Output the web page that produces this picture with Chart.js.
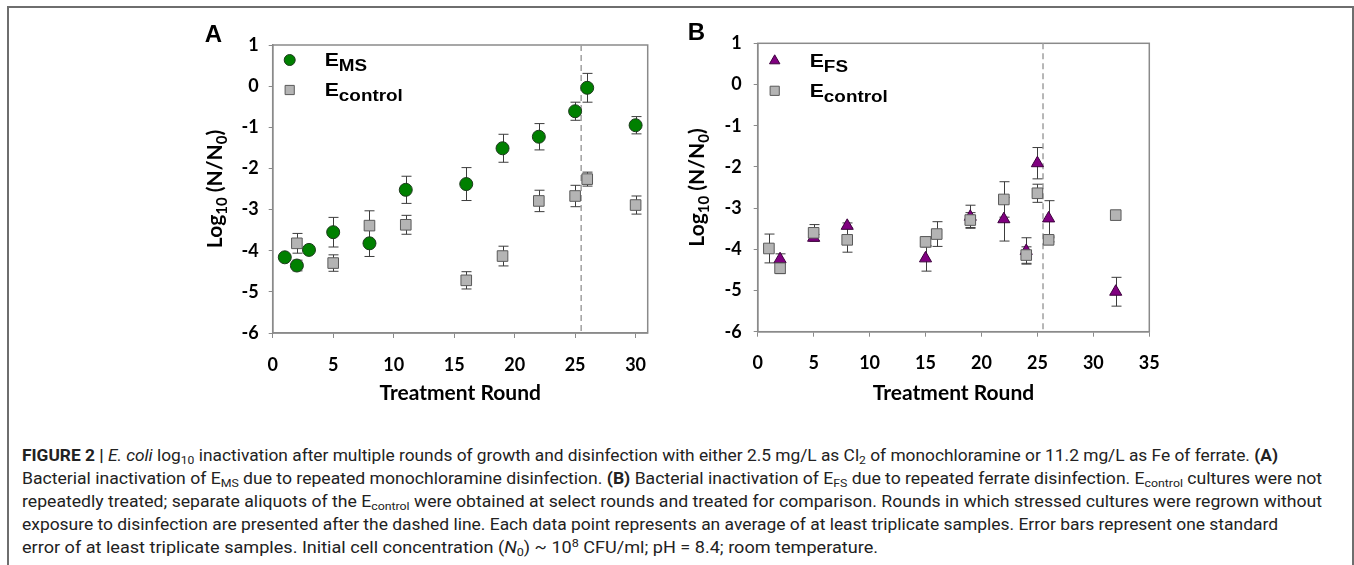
<!DOCTYPE html>
<html lang="en">
<head>
<meta charset="UTF-8">
<title>E. coli log10 inactivation after repeated disinfection</title>
<script src="https://cdn.jsdelivr.net/npm/chart.js"></script>
<style>
  body { margin: 0; background: #fff; width: 1354px; height: 565px; overflow: hidden; position: relative; }
  .frame { position: absolute; left: 7px; top: 6px; width: 1343px; height: 620px; border: 2px solid #6e6e6e; border-bottom: none; }
  .panel { position: absolute; top: 10px; height: 405px; }
  #panelA { left: 195px; width: 490px; }
  #panelB { left: 680px; width: 510px; }
  .caption { position: absolute; left: 22px; top: 444px; font-family: Roboto, "Liberation Sans", sans-serif; font-size: 16px; line-height: 23px; color: #222; }
  .caption div { white-space: nowrap; transform-origin: left center; width: max-content; }
  .caption sub, .caption sup { font-size: 0.7em; line-height: 0; }
  .caption sub { vertical-align: -0.3em; }
  .caption sup { vertical-align: 0.55em; }
</style>
</head>
<body>
<div class="frame"></div>
<div class="panel" id="panelA"><canvas id="chartA"></canvas></div>
<div class="panel" id="panelB"><canvas id="chartB"></canvas></div>
<div class="caption" id="caption">
  <div><b>FIGURE 2 | </b><i>E. coli</i> log<sub>10</sub> inactivation after multiple rounds of growth and disinfection with either 2.5 mg/L as Cl<sub>2</sub> of monochloramine or 11.2 mg/L as Fe of ferrate. <b>(A)</b></div>
  <div>Bacterial inactivation of E<sub>MS</sub> due to repeated monochloramine disinfection. <b>(B)</b> Bacterial inactivation of E<sub>FS</sub> due to repeated ferrate disinfection. E<sub>control</sub> cultures were not</div>
  <div>repeatedly treated; separate aliquots of the E<sub>control</sub> were obtained at select rounds and treated for comparison. Rounds in which stressed cultures were regrown without</div>
  <div>exposure to disinfection are presented after the dashed line. Each data point represents an average of at least triplicate samples. Error bars represent one standard</div>
  <div>error of at least triplicate samples. Initial cell concentration (<i>N</i><sub>0</sub>) ~ 10<sup>8</sup> CFU/ml; pH = 8.4; room temperature.</div>
</div>

<script>
// Panel A: monochloramine-stressed E. coli (E_MS) vs control
const roundsMS = [1, 2, 3, 5, 8, 11, 16, 19, 22, 25, 26, 30];
const logMS = [-4.16, -4.36, -3.98, -3.55, -3.82, -2.52, -2.38, -1.51, -1.23, -0.61, -0.04, -0.95];
const errMS = [0.05, 0.13, 0.05, 0.36, 0.32, 0.33, 0.40, 0.34, 0.32, 0.22, 0.35, 0.21];
const roundsCtrlA = [2, 5, 8, 11, 16, 19, 22, 25, 26, 30];
const logCtrlA = [-3.82, -4.30, -3.39, -3.37, -4.72, -4.13, -2.79, -2.67, -2.26, -2.89];
const errCtrlA = [0.24, 0.20, 0.36, 0.23, 0.21, 0.24, 0.26, 0.26, 0.17, 0.22];

// Panel B: ferrate-stressed E. coli (E_FS) vs control
const roundsFS = [2, 5, 8, 15, 19, 22, 24, 25, 26, 32];
const logFS = [-4.24, -3.72, -3.43, -4.22, -3.21, -3.27, -4.04, -1.91, -3.25, -5.03];
const errFS = [0.13, 0.08, 0.07, 0.31, 0.28, 0.53, 0.32, 0.38, 0.43, 0.35];
const roundsCtrlB = [1, 2, 5, 8, 15, 16, 19, 22, 24, 25, 26, 32];
const logCtrlB = [-3.98, -4.46, -3.60, -3.77, -3.82, -3.63, -3.29, -2.79, -4.14, -2.64, -3.77, -3.17];
const errCtrlB = [0.35, 0.13, 0.20, 0.30, 0.12, 0.30, 0.18, 0.43, 0.20, 0.22, 0.05, 0];

const xTicks = [0, 5, 10, 15, 20, 25, 30, 35];
const yTicks = [-6, -5, -4, -3, -2, -1, 0, 1];
const regrowthStart = 25.5; // dashed line: no disinfection after this

const GREEN = '#008000', GRAY = '#b4b4b4', PURPLE = '#800080';
const tickFont = { family: 'Lato', weight: 'bold', size: 18 };
const titleFont = { family: 'Lato', weight: 'bold', size: 21 };

function points(xs, ys) {
  return xs.map((x, i) => ({ x: x, y: ys[i] }));
}

// draws text pieces with subscripts, starting at x
function richText(ctx, parts, x, y, size, subSize, subShift) {
  let cx = x;
  parts.forEach(p => {
    const sub = p[1];
    ctx.font = 'bold ' + (sub ? subSize : size) + 'px ' + p[2];
    ctx.fillText(p[0], cx, y + (sub ? subShift : 0));
    cx += ctx.measureText(p[0]).width;
  });
  return cx - x;
}

const panelPlugin = {
  id: 'panelExtras',
  beforeDatasetsDraw(chart, args, opts) {
    const { ctx, chartArea: a, scales: { x, y } } = chart;
    ctx.save();
    // plot box
    ctx.strokeStyle = '#8a8a8a';
    ctx.lineWidth = 1.5;
    ctx.strokeRect(a.left, a.top, a.right - a.left, a.bottom - a.top);
    // dashed regrowth line
    const xd = x.getPixelForValue(regrowthStart);
    ctx.strokeStyle = '#a0a0a0';
    ctx.setLineDash([6, 4]);
    ctx.beginPath();
    ctx.moveTo(xd, a.top);
    ctx.lineTo(xd, a.bottom);
    ctx.stroke();
    ctx.setLineDash([]);
    // error bars
    ctx.strokeStyle = '#3c3c3c';
    ctx.lineWidth = 1;
    chart.data.datasets.forEach((ds, i) => {
      const meta = chart.getDatasetMeta(i);
      ds.errors.forEach((e, j) => {
        if (!e) return;
        const px = Math.round(meta.data[j].x) + 0.5;
        const y1 = y.getPixelForValue(ds.data[j].y + e);
        const y2 = y.getPixelForValue(ds.data[j].y - e);
        ctx.beginPath();
        ctx.moveTo(px, y1); ctx.lineTo(px, y2);
        ctx.moveTo(px - 5, y1); ctx.lineTo(px + 5, y1);
        ctx.moveTo(px - 5, y2); ctx.lineTo(px + 5, y2);
        ctx.stroke();
      });
    });
    ctx.restore();
  },
  afterDraw(chart, args, opts) {
    const { ctx, chartArea: a } = chart;
    ctx.save();
    ctx.fillStyle = '#000';
    ctx.textAlign = 'left';
    ctx.textBaseline = 'alphabetic';

    // panel letter
    ctx.font = 'bold 24px "Liberation Sans", Arial';
    ctx.fillText(opts.letter, a.left + opts.letterDx, a.top - 3);

    // legend (text slightly widened like the source figure)
    opts.legend.forEach((item, k) => {
      const my = a.top + opts.legendTop + k * 30;
      ctx.fillStyle = item.color;
      ctx.strokeStyle = item.border;
      ctx.lineWidth = 1;
      Chart.helpers.drawPoint(ctx, { pointStyle: item.style, radius: item.radius, rotation: 0, borderWidth: 1 }, a.left + 17, my);
      ctx.fillStyle = '#000';
      ctx.save();
      ctx.translate(a.left + opts.legendText, my + 6);
      ctx.scale(1.18, 1);
      richText(ctx, [['E', false, '"Liberation Sans"'], [item.sub, true, '"Liberation Sans"']], 0, 0, 18, 16, 5);
      ctx.restore();
    });

    // rotated y-axis title: Log10 (N/N0)
    const parts = [['Log', false, 'Lato'], ['10', true, 'Lato'], [' (N/N', false, 'Lato'], ['0', true, 'Lato'], [')', false, 'Lato']];
    let w = 0;
    parts.forEach(p => { ctx.font = 'bold ' + (p[1] ? 15 : 21) + 'px Lato'; w += ctx.measureText(p[0]).width; });
    ctx.translate(a.left - opts.titleDx, (a.top + a.bottom) / 2);
    ctx.rotate(-Math.PI / 2);
    richText(ctx, parts, -w / 2, 7, 21, 15, 5);
    ctx.restore();
  }
};

function makeChart(id, datasets, cfg) {
  return new Chart(document.getElementById(id), {
    type: 'scatter',
    data: { datasets: datasets },
    options: {
      responsive: true,
      maintainAspectRatio: false,
      animation: false,
      layout: { padding: cfg.padding },
      plugins: {
        legend: { display: false },
        tooltip: { enabled: false },
        panelExtras: cfg
      },
      scales: {
        x: {
          type: 'linear',
          min: 0,
          max: cfg.xMax,
          afterBuildTicks: s => { s.ticks = xTicks.filter(v => v <= cfg.xMax).map(v => ({ value: v })); },
          afterFit: s => { s.height = cfg.xHeight; },
          grid: { drawOnChartArea: false, tickLength: 5, color: '#8a8a8a' },
          border: { color: '#8a8a8a', width: 1.5 },
          ticks: { font: tickFont, color: '#000', padding: 16, maxRotation: 0, autoSkip: false },
          title: { display: true, text: 'Treatment Round', font: titleFont, color: '#000', padding: { top: 0, bottom: 9 } }
        },
        y: {
          min: -6,
          max: 1,
          afterBuildTicks: s => { s.ticks = yTicks.map(v => ({ value: v })); },
          afterFit: s => { s.width = cfg.yWidth; },
          grid: { drawOnChartArea: false, tickLength: 4, color: '#8a8a8a' },
          border: { color: '#8a8a8a', width: 1.5 },
          ticks: { font: tickFont, color: '#000', padding: cfg.yPad }
        }
      }
    },
    plugins: [panelPlugin]
  });
}

const circle = { pointStyle: 'circle', pointRadius: 6.5, backgroundColor: GREEN, borderColor: '#1d3a1d', borderWidth: 1 };
const square = { pointStyle: 'rect', pointRadius: 7.5, backgroundColor: GRAY, borderColor: '#5a5a5a', borderWidth: 1 };
const triangle = { pointStyle: 'triangle', pointRadius: 7, backgroundColor: PURPLE, borderColor: '#3d003d', borderWidth: 1 };

makeChart('chartA', [
  Object.assign({ label: 'E_MS', data: points(roundsMS, logMS), errors: errMS, order: 0 }, circle),
  Object.assign({ label: 'E_control', data: points(roundsCtrlA, logCtrlA), errors: errCtrlA, order: 1 }, square)
], {
  padding: { top: 35, right: 37.3, left: 0, bottom: 0 },
  xMax: 31, xHeight: 82, yWidth: 77.7, yPad: 10,
  letter: 'A', letterDx: -68, titleDx: 58,
  legendTop: 15, legendText: 52,
  legend: [
    { sub: 'MS', style: 'circle', radius: 5.5, color: GREEN, border: '#1d3a1d' },
    { sub: 'control', style: 'rect', radius: 6.5, color: GRAY, border: '#5a5a5a' }
  ]
});

makeChart('chartB', [
  Object.assign({ label: 'E_FS', data: points(roundsFS, logFS), errors: errFS, order: 1 }, triangle),
  Object.assign({ label: 'E_control', data: points(roundsCtrlB, logCtrlB), errors: errCtrlB, order: 0 }, square)
], {
  padding: { top: 33.3, right: 40.7, left: 0, bottom: 0 },
  xMax: 35, xHeight: 83.3, yWidth: 77.7, yPad: 12,
  letter: 'B', letterDx: -70, titleDx: 61,
  legendTop: 17.5, legendText: 52,
  legend: [
    { sub: 'FS', style: 'triangle', radius: 6, color: PURPLE, border: '#3d003d' },
    { sub: 'control', style: 'rect', radius: 6.5, color: GRAY, border: '#5a5a5a' }
  ]
});

// stretch caption lines to the reference line ends (condensed face)
const lineEnds = [1278, 1322, 1322, 1278, 878];
document.querySelectorAll('#caption div').forEach((el, i) => {
  const w = el.getBoundingClientRect().width;
  el.style.transform = 'scaleX(' + ((lineEnds[i] - 22) / w) + ')';
});
</script>
</body>
</html>
